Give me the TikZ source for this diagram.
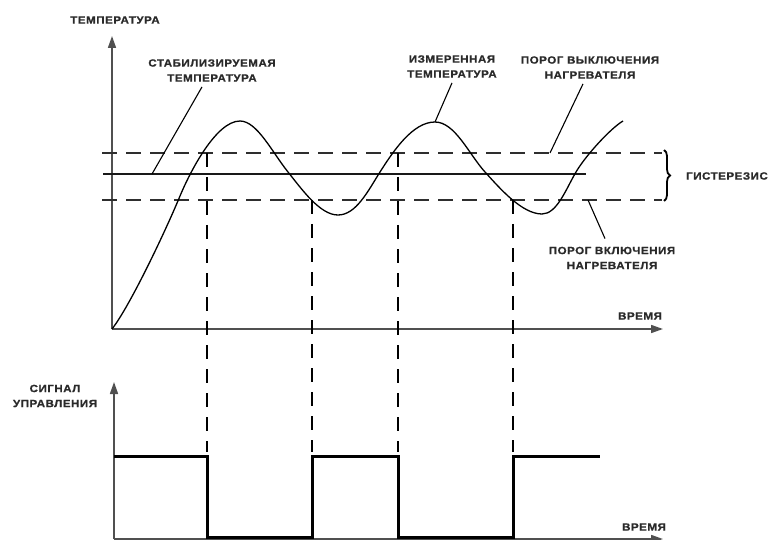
\documentclass[tikz,border=0pt]{standalone}
\usepackage{fontspec}
\usetikzlibrary{arrows.meta,decorations.pathreplacing}
\newfontfamily\lblfont{Liberation Sans}[FakeStretch=1.1,LetterSpace=5,BoldFeatures={FakeBold=0.8}]
\definecolor{axisgray}{HTML}{505050}
\definecolor{dashgray}{HTML}{2E2E2E}
\definecolor{labelgray}{HTML}{2A2A2A}
\begin{document}
\begin{tikzpicture}[x=1pt,y=-1pt,
  axis/.style={draw=axisgray, line width=1.6pt, -{Triangle[length=12pt,width=8pt]}},
  thresh/.style={draw=dashgray, line width=1.8pt, dash pattern=on 15pt off 9pt},
  guide/.style={draw=black, line width=1.5pt, dash pattern=on 14pt off 10pt},
  setline/.style={draw=black!90, line width=1.8pt},
  leader/.style={draw=black, line width=1.1pt},
  signal/.style={draw=black, line width=3pt, line join=miter},
  curve/.style={draw=black, line width=1.3pt},
  lbl/.style={font=\lblfont\bfseries\fontsize{10.5}{15}\selectfont, text=labelgray, inner sep=0pt, align=center},
]
\useasboundingbox (0,0) rectangle (771,540);

% ---------- temperature chart ----------
\coordinate (to) at (112,329);
\coordinate (ttop) at (112,36);
\coordinate (tend) at (663,329);
\draw[axis] (to) -- (ttop);
\draw[axis] (to) -- (tend);

% switching thresholds and set point
\coordinate (offL) at (102,153);
\coordinate (offR) at (662,153);
\coordinate (onL) at (102,200);
\coordinate (onR) at (662,200);
\coordinate (setL) at (103,174);
\coordinate (setR) at (586,174);
\draw[thresh] (offL) -- (offR);
\draw[thresh] (onL) -- (onR);
\draw[setline] (setL) -- (setR);

% measured temperature: warm-up, then oscillation between the thresholds
\draw[curve] (to)
  .. controls (130,306) and (166,230) .. (180,196)
  .. controls (190,172) and (216,121) .. (240,121)
  .. controls (257,121) and (272,152) .. (288,172)
  .. controls (302,189.5) and (320,215) .. (338,215)
  .. controls (356,215) and (368,191) .. (380,172)
  .. controls (394,150) and (413,122) .. (435,122)
  .. controls (455,122) and (469,154.4) .. (485,172)
  .. controls (500,188.5) and (522,214) .. (542,214)
  .. controls (557,214) and (566,189) .. (576,172)
  .. controls (586,155) and (611,128) .. (623,121);

% hysteresis brace
\coordinate (brT) at (664,150);
\coordinate (brB) at (664,201);
\draw[line width=1.8pt, decorate, decoration={brace, amplitude=6pt}] (brT) -- (brB);

% ---------- control signal chart ----------
\coordinate (so) at (114,539);
\coordinate (stop) at (114,382);
\coordinate (send) at (663,539);
\draw[axis] (so) -- (stop);
\draw[axis] (so) -- (send);

\draw[signal] (114,456) -- (207,456) -- (207,537) -- (312,537) -- (312,456)
  -- (398,456) -- (398,537) -- (513,537) -- (513,456) -- (600,456);

% switching instants
\coordinate (g1a) at (207,153); \coordinate (g1b) at (207,452);
\coordinate (g2a) at (312,200); \coordinate (g2b) at (312,452);
\coordinate (g3a) at (398,153); \coordinate (g3b) at (398,452);
\coordinate (g4a) at (513,200); \coordinate (g4b) at (513,452);
\draw[guide] (g1a) -- (g1b);
\draw[guide] (g2a) -- (g2b);
\draw[guide] (g3a) -- (g3b);
\draw[guide] (g4a) -- (g4b);

% ---------- labels ----------
\node[lbl] (ttl) at (115,20) {ТЕМПЕРАТУРА};
\node[lbl] (time1) at (640,316) {ВРЕМЯ};
\node[lbl] (time2) at (644,527) {ВРЕМЯ};
\node[lbl] (sig) at (55,396) {СИГНАЛ\\УПРАВЛЕНИЯ};
\node[lbl] (hyst) at (727,176) {ГИСТЕРЕЗИС};
\node[lbl] (stab) at (212,70.5) {СТАБИЛИЗИРУЕМАЯ\\ТЕМПЕРАТУРА};
\node[lbl] (meas) at (452,66.5) {ИЗМЕРЕННАЯ\\ТЕМПЕРАТУРА};
\node[lbl] (offl) at (590,67.5) {ПОРОГ ВЫКЛЮЧЕНИЯ\\НАГРЕВАТЕЛЯ};
\node[lbl] (onl) at (612,258) {ПОРОГ ВКЛЮЧЕНИЯ\\НАГРЕВАТЕЛЯ};

% leader lines
\coordinate (stabpt) at (152,174);
\coordinate (measpt) at (435,122);
\coordinate (offpt) at (550,153);
\coordinate (onpt) at (588,200);
\draw[leader] ([xshift=-10pt,yshift=-5pt]stab.south) -- (stabpt);
\draw[leader] ([yshift=-5pt]meas.south) -- (measpt);
\draw[leader] ([xshift=-7pt,yshift=-5pt]offl.south) -- (offpt);
\draw[leader] ([xshift=-7pt,yshift=8pt]onl.north) -- (onpt);
\end{tikzpicture}
\end{document}
